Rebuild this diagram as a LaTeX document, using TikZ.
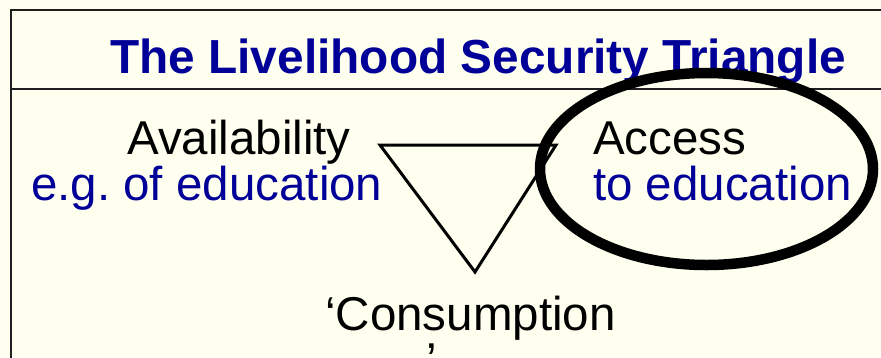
\documentclass[tikz,border=0pt]{standalone}
\usepackage{fontspec}
\setmainfont{Liberation Sans}
\usetikzlibrary{shapes.geometric}
\definecolor{cream}{RGB}{255,255,240}
\definecolor{navy}{RGB}{0,0,153}
\definecolor{framegray}{RGB}{30,30,30}
\frenchspacing
\tikzset{
  txt/.style={inner sep=0pt, anchor=base west, font=\fontsize{47.5}{47.5}\selectfont},
  ttl/.style={inner sep=0pt, anchor=base west, text=navy, font=\fontsize{47.8}{47.8}\selectfont\bfseries},
  frameline/.style={draw=framegray, line width=2pt},
  triline/.style={draw=black, line width=3pt, line join=miter},
  ring/.style={draw=black, line width=10.5pt, ellipse, minimum width=333pt, minimum height=192pt, inner sep=0pt}
}
\begin{document}
\begin{tikzpicture}[x=1pt,y=-1pt]
\fill[cream] (0,0) rectangle (881,357);
\useasboundingbox (0,0) rectangle (881,357);
% frame
\coordinate (f1) at (11,370);
\coordinate (f2) at (11,10);
\coordinate (f3) at (895,10);
\coordinate (h1) at (11,89);
\coordinate (h2) at (895,89);
\draw[frameline] (f1) -- (f2) -- (f3);
\draw[frameline] (h1) -- (h2);
% title
\node[ttl] (title) at (110,73) {The Livelihood Security Triangle};
% texts
\node[txt] (avail) at (127,154) {Availability};
\node[txt, text=navy] (avail2) at (31,200) {e.g. of education};
\node[txt] (access) at (593,154) {Access};
\node[txt, text=navy] (access2) at (593,200) {to education};
\node[txt] (cons) at (325,330) {‘Consumption};
\node[txt] (cons2) at (426,376) {’};
% triangle
\coordinate (tA) at (380,145);
\coordinate (tB) at (556,145);
\coordinate (tC) at (475,272);
\draw[triline] (tA) -- (tB) -- (tC) -- cycle;
% ellipse
\node[ring] (oval) at (706.5,169) {};
\end{tikzpicture}
\end{document}
